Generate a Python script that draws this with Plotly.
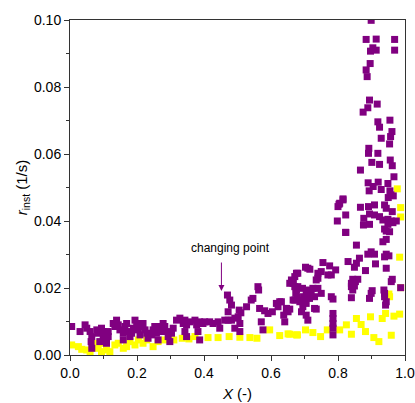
import plotly.graph_objects as go

# Purple series (X, r_inst)
purple_x = [
    0.005, 0.030, 0.045, 0.050, 0.060, 0.065, 0.063, 0.065, 0.080, 0.084, 0.094, 0.099, 0.099, 0.089,
    0.104, 0.114, 0.114, 0.109, 0.129, 0.139, 0.134, 0.144, 0.149, 0.159, 0.159, 0.164, 0.169, 0.174,
    0.179, 0.184, 0.189, 0.194, 0.199, 0.204, 0.209, 0.214, 0.218, 0.224, 0.229, 0.233, 0.244, 0.248,
    0.253, 0.258, 0.263, 0.268, 0.273, 0.278, 0.283, 0.288, 0.293, 0.298, 0.303, 0.308, 0.318, 0.328,
    0.338, 0.343, 0.348, 0.358, 0.343, 0.348, 0.373, 0.378, 0.387, 0.397, 0.382, 0.387, 0.402, 0.417,
    0.427, 0.442, 0.447, 0.462, 0.472, 0.482, 0.492, 0.502, 0.492, 0.507, 0.507,
    0.470, 0.477, 0.482, 0.472, 0.505, 0.510, 0.527, 0.541, 0.546, 0.561, 0.563, 0.566, 0.581, 0.591,
    0.604, 0.571, 0.576, 0.616, 0.626, 0.621, 0.646, 0.651, 0.641, 0.656, 0.666, 0.676, 0.671, 0.674,
    0.679, 0.631, 0.646, 0.638, 0.666,
    0.666, 0.680, 0.694, 0.676, 0.710, 0.725, 0.740, 0.750, 0.720, 0.705, 0.700, 0.715, 0.730, 0.695,
    0.686, 0.671, 0.705, 0.695, 0.730, 0.691, 0.705, 0.710, 0.656, 0.735,
    0.755, 0.775, 0.793, 0.710, 0.703, 0.716, 0.750, 0.740, 0.780, 0.770, 0.680, 0.671, 0.661, 0.740,
    0.735, 0.780, 0.785, 0.785, 0.785, 0.785, 0.785, 0.785,
    0.840, 0.849, 0.844, 0.902, 0.899, 0.894, 0.937, 0.939, 0.939, 0.944, 0.942, 0.840, 0.987,
    0.823, 0.944, 0.934, 0.944, 0.855, 0.899, 0.889, 0.909, 0.944, 0.952, 0.939, 0.864, 0.830, 0.855,
    0.849, 0.912, 0.882, 0.944, 0.844, 0.859, 0.852, 0.840, 0.962, 0.959,
    0.815, 0.803, 0.909, 0.891, 0.867, 0.939, 0.944, 0.962, 0.823, 0.877, 0.894, 0.909, 0.924, 0.934,
    0.949, 0.959, 0.949, 0.964, 0.974, 0.798, 0.876, 0.894, 0.823, 0.939, 0.954, 0.805, 0.800,
    0.899, 0.884, 0.914, 0.969, 0.904, 0.914, 0.897, 0.969, 0.896, 0.884, 0.887, 0.894, 0.917, 0.889,
    0.875, 0.919, 0.955, 0.924, 0.961, 0.929, 0.957, 0.954, 0.892, 0.891, 0.919, 0.901, 0.924, 0.956,
    0.962, 0.867, 0.967, 0.890, 0.905, 0.920, 0.949, 0.929, 0.955, 0.958, 0.950, 0.965, 0.815, 0.893,
]
purple_y = [
    0.0085, 0.0070, 0.0090, 0.0080, 0.0070, 0.0055, 0.0040, 0.0020, 0.0075, 0.0065, 0.0080, 0.0070, 0.0050, 0.0040,
    0.0065, 0.0070, 0.0055, 0.0035, 0.0094, 0.0104, 0.0085, 0.0090, 0.0075, 0.0065, 0.0045, 0.0085, 0.0094, 0.0070,
    0.0055, 0.0065, 0.0080, 0.0104, 0.0094, 0.0075, 0.0060, 0.0085, 0.0094, 0.0075, 0.0065, 0.0050, 0.0060, 0.0075,
    0.0085, 0.0065, 0.0045, 0.0070, 0.0085, 0.0094, 0.0085, 0.0070, 0.0055, 0.0040, 0.0065, 0.0080, 0.0104, 0.0110,
    0.0094, 0.0104, 0.0090, 0.0099, 0.0070, 0.0055, 0.0104, 0.0090, 0.0099, 0.0094, 0.0070, 0.0045, 0.0099, 0.0099,
    0.0094, 0.0099, 0.0080, 0.0104, 0.0104, 0.0104, 0.0110, 0.0114, 0.0080, 0.0094, 0.0070,
    0.0179, 0.0164, 0.0149, 0.0129, 0.0134, 0.0126, 0.0144, 0.0164, 0.0169, 0.0204, 0.0194, 0.0139, 0.0132, 0.0124,
    0.0129, 0.0099, 0.0075, 0.0154, 0.0159, 0.0144, 0.0139, 0.0129, 0.0099, 0.0214, 0.0219, 0.0244, 0.0204, 0.0184,
    0.0174, 0.0159, 0.0139, 0.0119, 0.0164,
    0.0214, 0.0204, 0.0199, 0.0194, 0.0194, 0.0199, 0.0199, 0.0184, 0.0184, 0.0184, 0.0174, 0.0169, 0.0174, 0.0164,
    0.0159, 0.0164, 0.0154, 0.0144, 0.0139, 0.0129, 0.0119, 0.0104, 0.0137, 0.0137,
    0.0276, 0.0266, 0.0254, 0.0259, 0.0262, 0.0256, 0.0249, 0.0244, 0.0239, 0.0239, 0.0244, 0.0234, 0.0224, 0.0229,
    0.0224, 0.0174, 0.0167, 0.0124, 0.0109, 0.0094, 0.0080, 0.0060,
    0.0204, 0.0206, 0.0194, 0.0192, 0.0184, 0.0169, 0.0194, 0.0184, 0.0174, 0.0159, 0.0149, 0.0171, 0.0201,
    0.0366, 0.0370, 0.0338, 0.0345, 0.0328, 0.0308, 0.0301, 0.0301, 0.0301, 0.0296, 0.0293, 0.0289, 0.0279, 0.0274,
    0.0262, 0.0272, 0.0252, 0.0259, 0.0226, 0.0226, 0.0219, 0.0214, 0.0226, 0.0219,
    0.0463, 0.0450, 0.0448, 0.0443, 0.0441, 0.0448, 0.0438, 0.0428, 0.0418, 0.0408, 0.0421, 0.0418, 0.0413, 0.0403,
    0.0405, 0.0400, 0.0390, 0.0395, 0.0400, 0.0400, 0.0388, 0.0390, 0.0366, 0.0376, 0.0368, 0.0453, 0.0443,
    0.0999, 0.0942, 0.0943, 0.0942, 0.0917, 0.0910, 0.0907, 0.0910, 0.0870, 0.0851, 0.0831, 0.0761, 0.0749, 0.0738,
    0.0725, 0.0696, 0.0701, 0.0680, 0.0667, 0.0647, 0.0652, 0.0630, 0.0617, 0.0602, 0.0602, 0.0575, 0.0569, 0.0582,
    0.0565, 0.0552, 0.0532, 0.0514, 0.0503, 0.0516, 0.0512, 0.0494, 0.0490, 0.0478, 0.0470, 0.0475, 0.0466, 0.0490,
]

# Yellow series (X, r_inst)
yellow_x = [
    0.005, 0.025, 0.035, 0.050, 0.060, 0.069, 0.080, 0.084, 0.094, 0.099, 0.109, 0.119, 0.134, 0.144,
    0.159, 0.169, 0.179, 0.194, 0.204, 0.218, 0.229, 0.248, 0.263, 0.283, 0.310, 0.335, 0.355,
    0.373, 0.412, 0.442, 0.475, 0.507, 0.537, 0.558, 0.596, 0.626, 0.651, 0.676,
    0.656, 0.679, 0.703, 0.725, 0.748, 0.768, 0.805, 0.825, 0.840, 0.855, 0.869, 0.882, 0.897, 0.907,
    0.922, 0.932, 0.942, 0.959, 0.967, 0.984, 0.954, 0.952, 0.984, 0.987, 0.977, 0.987, 0.987,
]
yellow_y = [
    0.0030, 0.0025, 0.0017, 0.0015, 0.0010, 0.0025, 0.0035, 0.0020, 0.0010, 0.0035, 0.0015, 0.0010, 0.0030, 0.0035,
    0.0020, 0.0025, 0.0040, 0.0030, 0.0045, 0.0035, 0.0045, 0.0025, 0.0040, 0.0045, 0.0045, 0.0050, 0.0048,
    0.0055, 0.0052, 0.0052, 0.0055, 0.0053, 0.0052, 0.0050, 0.0075, 0.0058, 0.0063, 0.0060,
    0.0062, 0.0060, 0.0075, 0.0067, 0.0055, 0.0075, 0.0075, 0.0090, 0.0062, 0.0109, 0.0091, 0.0070, 0.0114, 0.0052,
    0.0040, 0.0109, 0.0124, 0.0059, 0.0116, 0.0122, 0.0174, 0.0182, 0.0292, 0.0201, 0.0496, 0.0440, 0.0412,
]

PURPLE = "#800080"
YELLOW = "#ffff00"
FONT = "Liberation Sans, Arial, sans-serif"

fig = go.Figure()
fig.add_trace(go.Scatter(x=yellow_x, y=yellow_y, mode="markers",
                         marker=dict(symbol="square", size=7, color=YELLOW, line=dict(width=0)),
                         showlegend=False))
fig.add_trace(go.Scatter(x=purple_x, y=purple_y, mode="markers",
                         marker=dict(symbol="square", size=7, color=PURPLE, line=dict(width=0)),
                         showlegend=False))

fig.add_annotation(x=0.452, y=0.0191, xref="x", yref="y", text="", showarrow=True,
                   ax=0, ay=-30, arrowcolor=PURPLE, arrowwidth=1, arrowhead=2, arrowsize=1.2, standoff=0)
fig.add_annotation(x=0.48, y=0.0319, xref="x", yref="y", text="changing point", showarrow=False,
                   font=dict(family=FONT, size=12, color="#000"))

axis_common = dict(showline=True, linecolor="#333", linewidth=1, mirror=True, showgrid=False,
                   zeroline=False, ticks="outside", ticklen=5, tickwidth=1, tickcolor="#333",
                   tickfont=dict(family=FONT, size=14, color="#000"))

fig.update_xaxes(range=[0, 1.0], tickvals=[0, 0.2, 0.4, 0.6, 0.8, 1.0],
                 ticktext=["0.0", "0.2", "0.4", "0.6", "0.8", "1.0"],
                 minor=dict(tickvals=[0.1, 0.3, 0.5, 0.7, 0.9], ticklen=3, tickcolor="#333", ticks="outside"),
                 title=dict(text="<i>X</i> (-)", font=dict(family=FONT, size=15, color="#000"), standoff=8),
                 **axis_common)
fig.update_yaxes(range=[0, 0.10], tickvals=[0, 0.02, 0.04, 0.06, 0.08, 0.10],
                 ticktext=["0.00", "0.02", "0.04", "0.06", "0.08", "0.10"],
                 minor=dict(tickvals=[0.01, 0.03, 0.05, 0.07, 0.09], ticklen=3, tickcolor="#333", ticks="outside"),
                 title=dict(text="<i>r</i><sub>inst</sub> (1/s)", font=dict(family=FONT, size=15, color="#000"), standoff=2),
                 **axis_common)

fig.update_layout(width=415, height=403, margin=dict(l=70, r=10, t=20, b=48, autoexpand=False),
                  plot_bgcolor="white", paper_bgcolor="white")

fig.write_html("out.html")
